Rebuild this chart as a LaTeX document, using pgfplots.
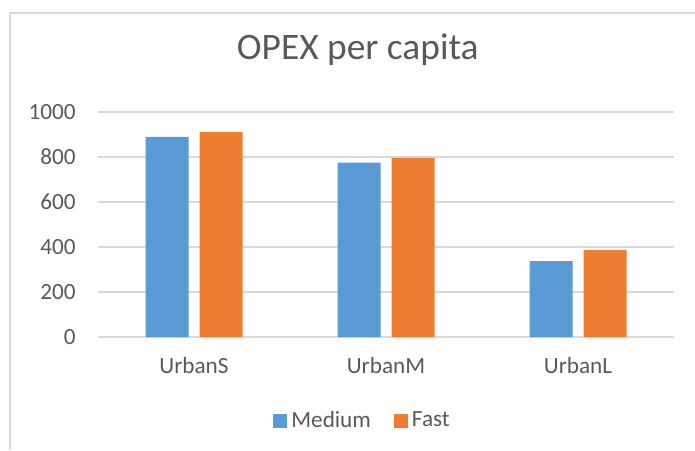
\documentclass[border=0pt]{standalone}
\usepackage{fontspec}
\setmainfont{Carlito}
\usepackage{pgfplots}
\pgfplotsset{compat=1.18}
\definecolor{cblue}{HTML}{5B9BD5}
\definecolor{corange}{HTML}{ED7D31}
\definecolor{tgrey}{HTML}{595959}
\definecolor{ggrey}{HTML}{D9D9D9}
\begin{document}
\begin{tikzpicture}[x=1pt,y=1pt]
\path[use as bounding box] (0,0) rectangle (347.5,225);
\draw[ggrey, line width=0.75pt] (5,0) -- (5,218.5) -- (347.5,218.5);
\begin{axis}[
  at={(49pt,56.5pt)}, anchor=south west,
  scale only axis, width=288pt, height=112.5pt,
  xmin=-0.5, xmax=2.5, ymin=0, ymax=1000,
  ytick={0,200,400,600,800,1000},
  xtick={0,1,2}, xticklabels={UrbanS,UrbanM,UrbanL},
  ybar=5.5pt, bar width=21.5pt,
  axis line style={draw=none},
  ymajorgrids, grid style={ggrey, line width=0.75pt},
  major tick length=0pt,
  /pgf/number format/1000 sep={},
  /pgf/number format/assume math mode=true,
  tick label style={font=\fontsize{11.6}{13}\selectfont, text=tgrey},
  yticklabel style={anchor=east, inner sep=0pt, xshift=-11pt},
  xticklabel style={anchor=base, inner sep=0pt, yshift=-18pt},
  title={OPEX per capita},
  title style={at={(axis description cs:0.4510,1.1778)}, anchor=base, inner sep=0pt,
    font=\fontsize{18.7}{22}\selectfont, text=tgrey},
  legend columns=2,
  legend style={at={(axis description cs:0.4610,-0.373)}, anchor=center, draw=none,
    font=\fontsize{11.6}{13}\selectfont, text=tgrey,
    /tikz/every even column/.append style={column sep=9.5pt}},
]
\addplot[fill=cblue, draw=none,
  legend image code/.code={\fill[cblue] (0pt,-3.5pt) rectangle (7pt,3.5pt);}]
  coordinates {(0,889) (1,775) (2,337)};
\addplot[fill=corange, draw=none,
  legend image code/.code={\fill[corange] (0pt,-3.5pt) rectangle (7pt,3.5pt);}]
  coordinates {(0,910) (1,796) (2,387)};
\legend{Medium,Fast}
\end{axis}
\end{tikzpicture}
\end{document}
